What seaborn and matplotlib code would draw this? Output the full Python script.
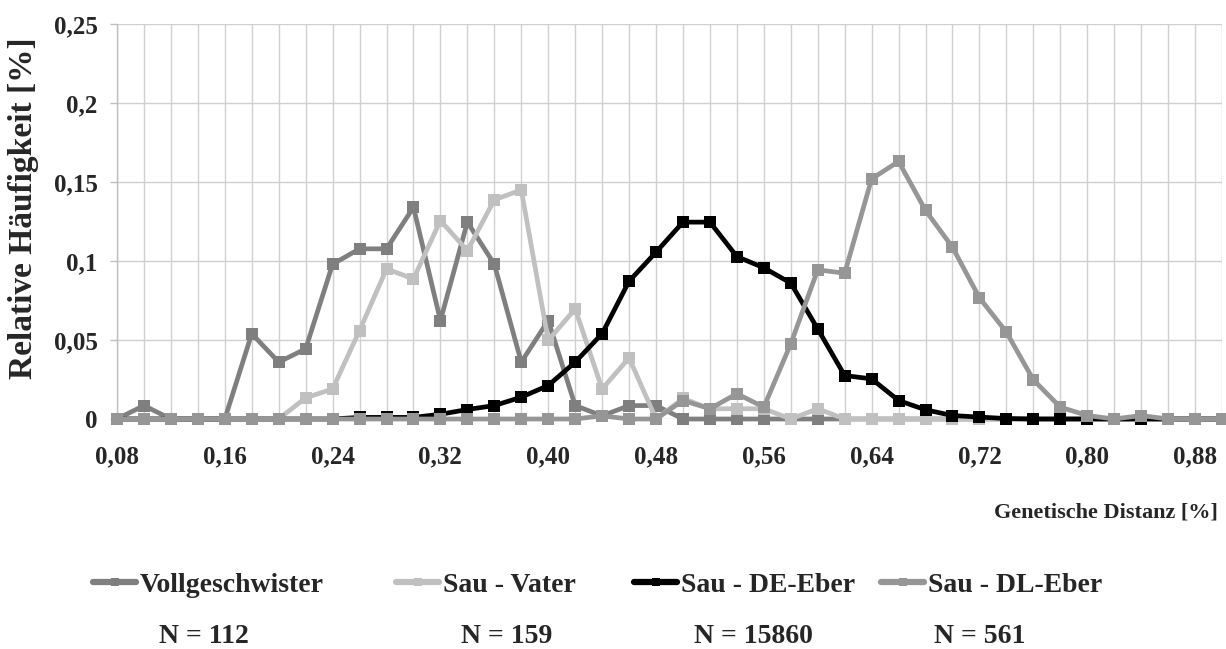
import numpy as np
import pandas as pd
import matplotlib
matplotlib.use("Agg")
import matplotlib.pyplot as plt
import seaborn as sns

# x categories: genetic distance 0.08 .. 0.90 step 0.02
distanz = [round(0.08 + 0.02 * i, 2) for i in range(42)]

vollgeschwister = [0, 0.0085, 0, 0, 0, 0.054, 0.036, 0.0444, 0.098, 0.1077,
                   0.1077, 0.134, 0.0623, 0.1246, 0.098, 0.036, 0.0623, 0.0085, 0.002, 0.0085,
                   0.0085, 0, 0, 0, 0, 0, 0, 0, 0, 0,
                   0, 0, 0, 0, 0, 0, 0, 0, 0, 0, 0, 0]
sau_vater = [0, 0, 0, 0, 0, 0, 0, 0.0134, 0.019, 0.056,
             0.095, 0.0887, 0.1256, 0.1066, 0.1387, 0.145, 0.0497, 0.0697, 0.019, 0.0387,
             0, 0.013, 0.0065, 0.0065, 0.0065, 0, 0.0065, 0, 0, 0,
             0, 0, 0, 0, 0, 0, 0, 0, 0, 0, 0, 0]
sau_de_eber = [0, 0, 0, 0, 0, 0, 0, 0, 0, 0.001,
               0.001, 0.001, 0.003, 0.006, 0.0085, 0.0138, 0.0212, 0.036, 0.054, 0.0872,
               0.1056, 0.1246, 0.1246, 0.1028, 0.0957, 0.086, 0.057, 0.0275, 0.0254, 0.0117,
               0.0058, 0.0022, 0.0012, 0.0003, 0, 0, 0, 0, 0, 0, 0, 0]
sau_dl_eber = [0, 0, 0, 0, 0, 0, 0, 0, 0, 0,
               0, 0, 0, 0, 0, 0, 0, 0, 0.002, 0,
               0, 0.0117, 0.0065, 0.016, 0.0075, 0.0476, 0.0944, 0.0923, 0.152, 0.163,
               0.132, 0.1087, 0.0767, 0.055, 0.0248, 0.0075, 0.0022, 0, 0.0022, 0, 0, 0]

series_names = ["Vollgeschwister", "Sau - Vater", "Sau - DE-Eber", "Sau - DL-Eber"]
n_labels = ["N = 112", "N = 159", "N = 15860", "N = 561"]
colors = ["#7f7f7f", "#c0c0c0", "#000000", "#969696"]

y_ticks = [0, 0.05, 0.1, 0.15, 0.2, 0.25]
y_ticklabels = ["0", "0,05", "0,1", "0,15", "0,2", "0,25"]

df = pd.DataFrame({
    "x": distanz * 4,
    "y": vollgeschwister + sau_vater + sau_de_eber + sau_dl_eber,
    "serie": sum([[n] * len(distanz) for n in series_names], []),
})

sns.set_theme(style="white")
plt.rcParams["font.family"] = ["Liberation Serif", "DejaVu Serif"]
plt.rcParams["font.weight"] = "bold"

W, H = 1226, 649
fig = plt.figure(figsize=(W / 100, H / 100), dpi=100)
ax = fig.add_axes([117 / W, (H - 419) / H, (1222 - 117) / W, (419 - 24) / H])

sns.lineplot(data=df, x="x", y="y", hue="serie", hue_order=series_names,
             palette=colors, marker="s", markersize=8, markeredgewidth=0,
             linewidth=3.4, ax=ax, legend=True, clip_on=False, zorder=3)

ax.set_xlim(0.08, 0.90)
ax.set_ylim(0, 0.25)
ax.set_xticks(distanz)
ax.set_xticklabels([f"{d:.2f}".replace(".", ",") if i % 4 == 0 else "" for i, d in enumerate(distanz)],
                   fontsize=18, fontweight="bold")
ax.set_yticks(y_ticks)
ax.set_yticklabels(y_ticklabels, fontsize=18, fontweight="bold")
ax.tick_params(axis="x", length=0, pad=19)
ax.tick_params(axis="y", length=5, color="#bfbfbf", width=1, pad=9, left=True)
ax.grid(True, color="#d0d0d0", linewidth=1)
ax.set_axisbelow(True)
for s in ["top", "right", "bottom"]:
    ax.spines[s].set_visible(False)
ax.spines["left"].set_color("#bfbfbf")
ax.spines["left"].set_linewidth(1)

ax.set_xlabel("")
ax.set_ylabel("")
fig.text(24 / W, 1 - 208 / H, "Relative Häufigkeit [%]", rotation=90, ha="center", va="center",
         fontsize=24, fontweight="bold")
fig.text(1218 / W, 1 - 512 / H, "Genetische Distanz [%]", ha="right", va="center",
         fontsize=16, fontweight="bold")

handles, labels = ax.get_legend_handles_labels()
ax.get_legend().remove()
legend_x = [93, 396, 634, 881]
for xp, h, lab in zip(legend_x, handles, labels):
    h.set_markersize(6)
    h.set_linewidth(4.5)
    fig.legend([h], [lab], loc="center left", bbox_to_anchor=(xp / W, 1 - 585 / H),
               frameon=False, prop={"weight": "bold", "size": 20},
               handlelength=1.55, handletextpad=0.15, borderpad=0, borderaxespad=0)

n_x = [204, 507, 753, 980]
for xp, t in zip(n_x, n_labels):
    fig.text(xp / W, 1 - 643 / H, t, ha="center", va="baseline", fontsize=20, fontweight="bold")

fig.savefig("out.png", dpi=100)
